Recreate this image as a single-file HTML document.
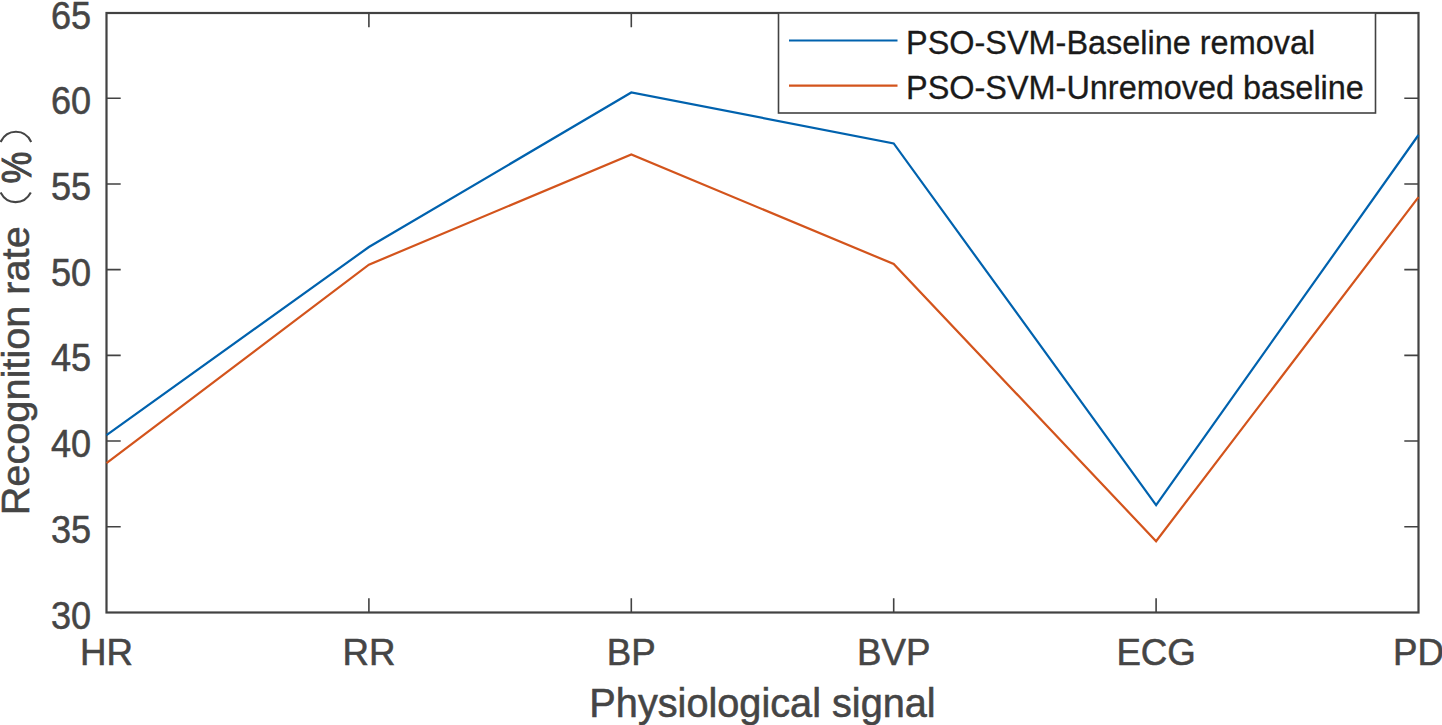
<!DOCTYPE html>
<html><head><meta charset="utf-8"><style>
html,body{margin:0;padding:0;background:#fff;width:1442px;height:725px;overflow:hidden}
svg{display:block;font-family:"Liberation Sans",sans-serif}
</style></head><body>
<svg width="1442" height="725" viewBox="0 0 1442 725">
<path d="M106.5,526.79H120.7M1418.5,526.79H1404.3M106.5,441.07H120.7M1418.5,441.07H1404.3M106.5,355.36H120.7M1418.5,355.36H1404.3M106.5,269.64H120.7M1418.5,269.64H1404.3M106.5,183.93H120.7M1418.5,183.93H1404.3M106.5,98.21H120.7M1418.5,98.21H1404.3M368.90,612.5V598.2M368.90,13V27.3M631.30,612.5V598.2M631.30,13V27.3M893.70,612.5V598.2M893.70,13V27.3M1156.10,612.5V598.2M1156.10,13V27.3" stroke="#424242" stroke-width="1.6" fill="none"/>
<rect x="106.5" y="13" width="1312.0" height="599.5" fill="none" stroke="#424242" stroke-width="2.2"/>
<text transform="translate(91.2,628.50) scale(0.95,1)" text-anchor="end" font-size="38" fill="#454545" stroke="#454545" stroke-width="0.55">30</text>
<text transform="translate(91.2,542.79) scale(0.95,1)" text-anchor="end" font-size="38" fill="#454545" stroke="#454545" stroke-width="0.55">35</text>
<text transform="translate(91.2,457.07) scale(0.95,1)" text-anchor="end" font-size="38" fill="#454545" stroke="#454545" stroke-width="0.55">40</text>
<text transform="translate(91.2,371.36) scale(0.95,1)" text-anchor="end" font-size="38" fill="#454545" stroke="#454545" stroke-width="0.55">45</text>
<text transform="translate(91.2,285.64) scale(0.95,1)" text-anchor="end" font-size="38" fill="#454545" stroke="#454545" stroke-width="0.55">50</text>
<text transform="translate(91.2,199.93) scale(0.95,1)" text-anchor="end" font-size="38" fill="#454545" stroke="#454545" stroke-width="0.55">55</text>
<text transform="translate(91.2,114.21) scale(0.95,1)" text-anchor="end" font-size="38" fill="#454545" stroke="#454545" stroke-width="0.55">60</text>
<text transform="translate(91.2,28.50) scale(0.95,1)" text-anchor="end" font-size="38" fill="#454545" stroke="#454545" stroke-width="0.55">65</text>
<text transform="translate(106.50,665) scale(0.965,0.99)" text-anchor="middle" font-size="38" fill="#454545" stroke="#454545" stroke-width="0.55">HR</text>
<text transform="translate(368.90,665) scale(0.965,0.99)" text-anchor="middle" font-size="38" fill="#454545" stroke="#454545" stroke-width="0.55">RR</text>
<text transform="translate(631.30,665) scale(0.965,0.99)" text-anchor="middle" font-size="38" fill="#454545" stroke="#454545" stroke-width="0.55">BP</text>
<text transform="translate(893.70,665) scale(0.965,0.99)" text-anchor="middle" font-size="38" fill="#454545" stroke="#454545" stroke-width="0.55">BVP</text>
<text transform="translate(1156.10,665) scale(0.965,0.99)" text-anchor="middle" font-size="38" fill="#454545" stroke="#454545" stroke-width="0.55">ECG</text>
<text transform="translate(1418.50,665) scale(0.965,0.99)" text-anchor="middle" font-size="38" fill="#454545" stroke="#454545" stroke-width="0.55">PD</text>
<g transform="translate(762.5,716.7) scale(1,1.02)"><text x="0" y="0" text-anchor="middle" font-size="39.7" fill="#454545" stroke="#454545" stroke-width="0.55">Physiological signal</text></g>
<polyline points="106.50,435.10 368.90,247.00 631.30,92.50 893.70,143.40 1156.10,505.10 1418.50,135.00" fill="none" stroke="#0062AE" stroke-width="2.2" stroke-linejoin="miter"/>
<polyline points="106.50,463.20 368.90,264.70 631.30,154.40 893.70,264.00 1156.10,541.20 1418.50,197.20" fill="none" stroke="#D3541C" stroke-width="2.2" stroke-linejoin="miter"/>
<g transform="translate(29.3,515.3) rotate(-90)"><text x="0" y="0" font-size="39.7" fill="#454545" stroke="#454545" stroke-width="0.55">Recognition rate</text></g>
<path d="M0.6,142 C7,128.4 25,128.4 31.2,142M0.6,192.4 C7,205.3 24,205.3 30.8,192.4" fill="none" stroke="#454545" stroke-width="2.1"/>
<g transform="translate(31,183.5) rotate(-90) scale(0.9,1.08)"><text x="0" y="0" font-size="39.7" fill="#454545" stroke="#454545" stroke-width="0.9">%</text></g>
<rect x="778.5" y="13" width="597" height="100" fill="#fff" stroke="#424242" stroke-width="1.6"/>
<path d="M789,40.5H897.5" stroke="#0062AE" stroke-width="2.2"/>
<path d="M789,85.6H897.5" stroke="#D3541C" stroke-width="2.2"/>
<text transform="translate(906,53.8) scale(1,1.025)" font-size="32.45" fill="#1a1a1a" stroke="#1a1a1a" stroke-width="0.3">PSO-SVM-Baseline removal</text>
<text transform="translate(906,99.3) scale(1,1.025)" font-size="32.45" fill="#1a1a1a" stroke="#1a1a1a" stroke-width="0.3">PSO-SVM-Unremoved baseline</text>
</svg>
</body></html>
